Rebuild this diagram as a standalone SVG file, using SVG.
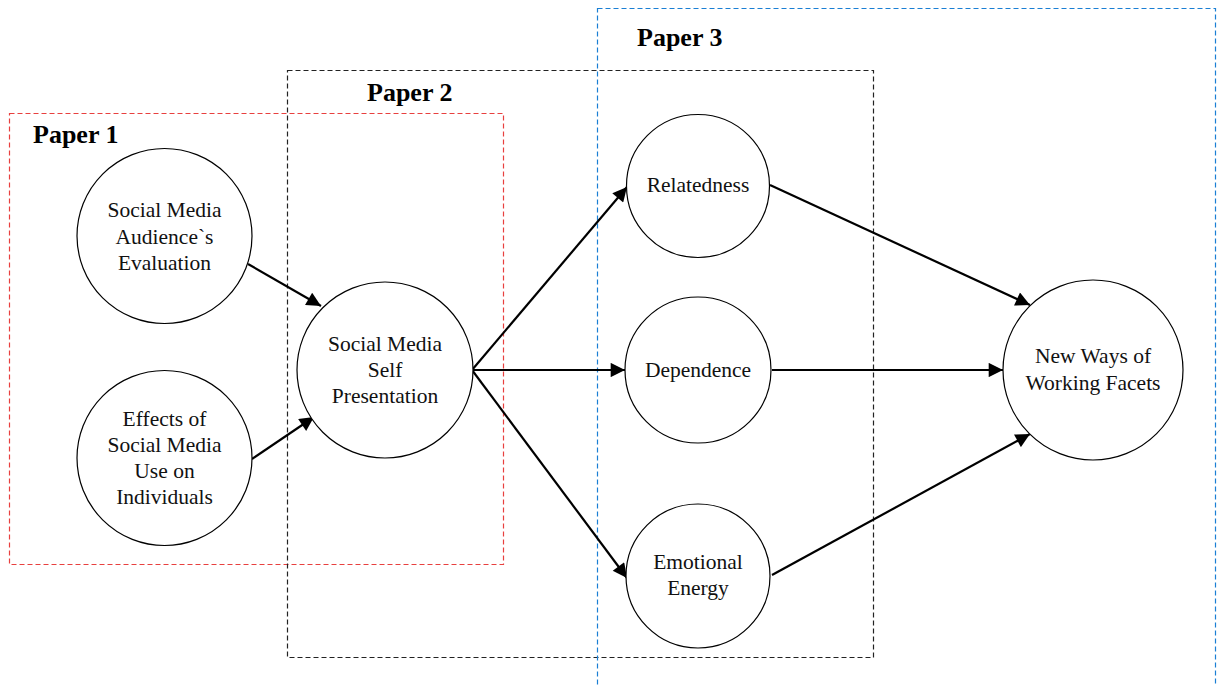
<svg xmlns="http://www.w3.org/2000/svg" width="1220" height="686" viewBox="0 0 1220 686">
<style>
.node{fill:#fff;stroke:#000;stroke-width:1.2}
.lbl{font-family:"Liberation Serif","Times New Roman",serif;font-size:21.5px;fill:#111;text-anchor:middle}
.ttl{font-family:"Liberation Serif","Times New Roman",serif;font-size:26px;font-weight:bold;fill:#000}
.box{fill:none;stroke-width:1.2;stroke-dasharray:5,3}
.edge{stroke:#000;stroke-width:2.2;fill:none;marker-end:url(#ah)}
</style>
<defs>
<marker id="ah" viewBox="0 0 10 10" refX="10" refY="5" markerWidth="7.5" markerHeight="6.5" markerUnits="strokeWidth" orient="auto">
<path d="M0,0 L10,5 L0,10 z" fill="#000"/>
</marker>
</defs>
<rect width="1220" height="686" fill="#fff"/>
<g id="groups">
<rect class="box" x="9.5" y="113.5" width="494" height="451" stroke="#e8403f"/>
<rect class="box" x="287.5" y="70.5" width="586" height="587" stroke="#222"/>
<rect class="box" x="597.5" y="8.5" width="618" height="700" stroke="#1a7fd4"/>
<text class="ttl" x="33" y="143">Paper 1</text>
<text class="ttl" x="367" y="101">Paper 2</text>
<text class="ttl" x="637" y="46">Paper 3</text>
</g>
<g id="connectors">
<line class="edge" x1="248" y1="264" x2="321" y2="306"/>
<line class="edge" x1="252" y1="459" x2="314" y2="417"/>
<line class="edge" x1="472" y1="370" x2="627" y2="187"/>
<line class="edge" x1="472" y1="370" x2="625" y2="370"/>
<line class="edge" x1="472" y1="370" x2="627" y2="578"/>
<line class="edge" x1="770" y1="185" x2="1030" y2="305"/>
<line class="edge" x1="772" y1="370" x2="1003" y2="370"/>
<line class="edge" x1="772" y1="575" x2="1030" y2="434"/>
</g>
<g id="n-audience">
<circle class="node" cx="164.5" cy="236" r="87.5"/>
<text class="lbl" x="164.5" y="217">Social Media</text>
<text class="lbl" x="164.5" y="244">Audience`s</text>
<text class="lbl" x="164.5" y="270">Evaluation</text>
</g>
<g id="n-effects">
<circle class="node" cx="164.5" cy="458" r="87.5"/>
<text class="lbl" x="164.5" y="426">Effects of</text>
<text class="lbl" x="164.5" y="452">Social Media</text>
<text class="lbl" x="164.5" y="478">Use on</text>
<text class="lbl" x="164.5" y="504">Individuals</text>
</g>
<g id="n-self">
<circle class="node" cx="385" cy="370" r="88"/>
<text class="lbl" x="385" y="351">Social Media</text>
<text class="lbl" x="385" y="377">Self</text>
<text class="lbl" x="385" y="403">Presentation</text>
</g>
<g id="n-relatedness">
<circle class="node" cx="698" cy="186" r="71.5"/>
<text class="lbl" x="698" y="192">Relatedness</text>
</g>
<g id="n-dependence">
<circle class="node" cx="698" cy="370" r="73"/>
<text class="lbl" x="698" y="377">Dependence</text>
</g>
<g id="n-emotional">
<circle class="node" cx="698" cy="576" r="72"/>
<text class="lbl" x="698" y="569">Emotional</text>
<text class="lbl" x="698" y="595">Energy</text>
</g>
<g id="n-newways">
<circle class="node" cx="1093" cy="370" r="90"/>
<text class="lbl" x="1093" y="363">New Ways of</text>
<text class="lbl" x="1093" y="390">Working Facets</text>
</g>
</svg>
